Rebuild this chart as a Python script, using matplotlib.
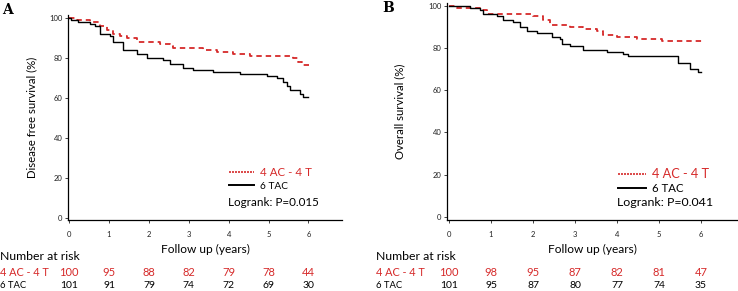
import matplotlib
matplotlib.use("Agg")
import matplotlib.pyplot as plt
from matplotlib.lines import Line2D
import matplotlib.transforms as mtrans

plt.rcParams['font.family'] = ['Lato', 'DejaVu Sans']

W, H = 738, 291
RED = '#d62a2a'

# ---------------- data ----------------
# Panel A: Disease free survival
a_red_t = [0, 0.20, 0.53, 0.78, 0.95, 1.10, 1.28, 1.45, 1.70, 2.28, 2.53, 2.60, 3.36, 3.70, 4.10, 4.54, 5.60, 5.74, 5.84, 6.02]
a_red_s = [100, 99, 98, 96, 94, 92, 91, 90, 88, 87, 86, 85, 84, 83, 82, 81, 80, 78, 76.5, 76.5]
a_blk_t = [0, 0.05, 0.23, 0.53, 0.65, 0.78, 1.03, 1.10, 1.35, 1.70, 1.95, 2.36, 2.53, 2.86, 3.10, 3.60, 4.29, 4.96, 5.20, 5.36, 5.46, 5.54, 5.79, 5.86, 6.00]
a_blk_s = [100, 99, 98, 97, 96, 92, 91, 88, 84, 82, 80, 79, 77, 75, 74, 73, 72, 71, 70, 68, 66, 64, 62, 60.5, 60.5]

# Panel B: Overall survival
b_red_t = [0, 0.19, 0.74, 0.90, 2.00, 2.24, 2.40, 2.88, 3.20, 3.52, 3.67, 4.00, 4.48, 5.07, 6.02]
b_red_s = [100, 99, 98, 96, 95, 93, 91, 90, 89, 88, 86, 85, 84, 83, 83]
b_blk_t = [0, 0.50, 0.74, 0.81, 1.14, 1.29, 1.52, 1.69, 1.86, 2.10, 2.45, 2.64, 2.69, 2.88, 3.20, 3.76, 4.14, 4.26, 5.45, 5.74, 5.93, 6.00]
b_blk_s = [100, 99, 98, 96, 95, 93, 92, 90, 88, 87, 85, 84, 82, 81, 79, 78, 77, 76, 73, 70, 68.5, 68.5]

risk_times = [0, 1, 2, 3, 4, 5, 6]
a_risk_red = [100, 95, 88, 82, 79, 78, 44]
a_risk_blk = [101, 91, 79, 74, 72, 69, 30]
b_risk_red = [100, 98, 95, 87, 82, 81, 47]
b_risk_blk = [101, 95, 87, 80, 77, 74, 35]

yticks = [0, 20, 40, 60, 80, 100]
xticks = [0, 1, 2, 3, 4, 5, 6]
group_labels = ['4 AC - 4 T', '6 TAC']

fig = plt.figure(figsize=(W / 100, H / 100), dpi=100)


def px_axes(l, t, r, b):
    return fig.add_axes([l / W, 1 - b / H, (r - l) / W, (b - t) / H])


def fy(py):
    return 1 - py / H


def panel(ax, red_t, red_s, blk_t, blk_s, xlim, ylim, ylabel, ylab_x,
          risk_red, risk_blk, risk_label_x, leg, pval, letter, letter_xy, legsize, logsize):
    ax.step(red_t, red_s, where='post', color=RED, lw=1.3, ls=(0, (3.0, 2.2)))
    ax.step(blk_t, blk_s, where='post', color='black', lw=1.0)
    ax.set_xlim(*xlim)
    ax.set_ylim(*ylim)
    ax.set_xticks(xticks)
    ax.set_yticks(yticks)
    for s in ['top', 'right']:
        ax.spines[s].set_visible(False)
    for s in ['left', 'bottom']:
        ax.spines[s].set_linewidth(0.9)
    ax.tick_params(axis='both', labelsize=5.5, length=2, width=0.6, pad=2, colors='#222222')
    ax.tick_params(axis='x', pad=6)
    ax.set_xlabel('Follow up (years)', fontsize=8.6, labelpad=4)
    ax.set_ylabel(ylabel, fontsize=8.2)
    ax.yaxis.set_label_coords(ylab_x, 0.5, transform=mtrans.blended_transform_factory(fig.transFigure, ax.transAxes))

    # legend
    lx0, lx1, lxt, ly_red, ly_blk, ly_log = leg
    handles = [Line2D([0], [0], color=RED, lw=1.2, ls=(0, (1.2, 0.6))),
               Line2D([0], [0], color='black', lw=1.4)]
    lg = ax.legend(handles, group_labels, loc='upper left', frameon=False,
                   bbox_to_anchor=(lx0 / W, fy(ly_red - 8)), bbox_transform=fig.transFigure,
                   fontsize=legsize, handlelength=2.2, handletextpad=0.5,
                   borderpad=0, borderaxespad=0, labelspacing=0.25)
    lg.get_texts()[0].set_color(RED)
    lg.get_texts()[1].set_fontsize(legsize - 1)
    fig.text(lxt / W, fy(ly_log), pval, fontsize=logsize, va='center', ha='left')

    # risk table
    tr = mtrans.blended_transform_factory(ax.transData, fig.transFigure)
    fig.text(risk_label_x / W, fy(257), 'Number at risk', fontsize=8.8, va='center')
    fig.text(risk_label_x / W, fy(272), group_labels[0], fontsize=7.8, va='center', color=RED)
    fig.text(risk_label_x / W, fy(286), group_labels[1], fontsize=6.8, va='center')
    for t, r, k in zip(risk_times, risk_red, risk_blk):
        ax.text(t, fy(272), str(r), transform=tr, ha='center', va='center', fontsize=8, color=RED, clip_on=False)
        ax.text(t, fy(286), str(k), transform=tr, ha='center', va='center', fontsize=7.5, color='black', clip_on=False)

    fig.text(letter_xy[0] / W, fy(letter_xy[1]), letter, fontsize=10, fontweight='bold',
             family='DejaVu Serif', va='center', ha='left')


axA = px_axes(68, 15, 342, 220)
panel(axA, a_red_t, a_red_s, a_blk_t, a_blk_s, (-0.03, 6.84), (-1, 101.5),
      'Disease free survival (%)', 37 / W, a_risk_red, a_risk_blk, 0,
      (229, 245, 228, 175, 191, 203), 'Logrank: P=0.015', 'A', (2, 10), 8.3, 8.4)

axB = px_axes(447, 3, 737, 220)
panel(axB, b_red_t, b_red_s, b_blk_t, b_blk_s, (-0.05, 6.86), (-1.4, 101.2),
      'Overall survival (%)', 405 / W, b_risk_red, b_risk_blk, 376,
      (618, 642, 617, 176, 189, 203), 'Logrank: P=0.041', 'B', (382, 8), 9.2, 8.9)

fig.savefig('out.png', dpi=100)
